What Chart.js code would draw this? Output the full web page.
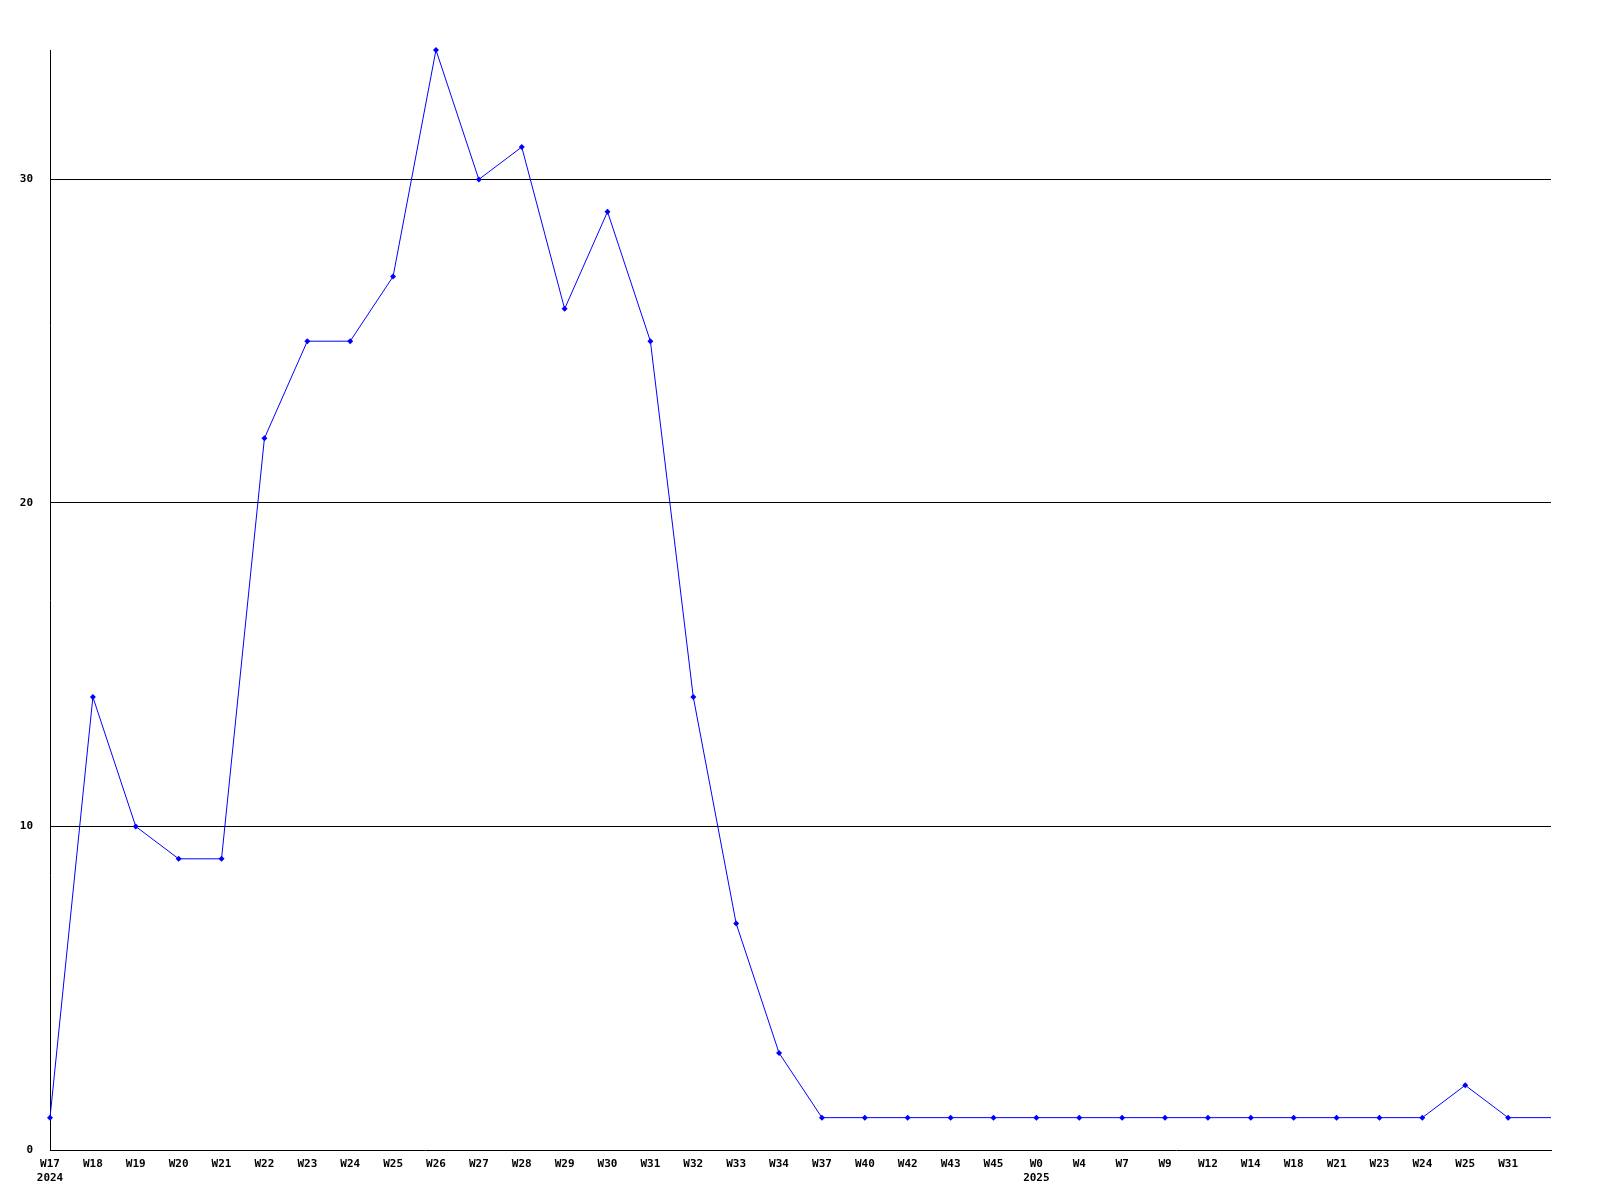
<!DOCTYPE html>
<html>
<head>
<meta charset="utf-8">
<script src="https://cdn.jsdelivr.net/npm/chart.js@4/dist/chart.umd.min.js"></script>
<style>
  html, body { margin: 0; padding: 0; background: #ffffff; }
  #wrap { width: 1600px; height: 1200px; position: relative; }
</style>
</head>
<body>
<div id="wrap"><canvas id="c" width="1600" height="1200"></canvas></div>
<script>
const weeks = ["W17","W18","W19","W20","W21","W22","W23","W24","W25","W26","W27","W28","W29","W30","W31","W32","W33","W34","W37","W40","W42","W43","W45","W0","W4","W7","W9","W12","W14","W18","W21","W23","W24","W25","W31",""];
const years = ["2024","","","","","","","","","","","","","","","","","","","","","","","2025","","","","","","","","","","","",""];
const counts = [1,14,10,9,9,22,25,25,27,34,30,31,26,29,25,14,7,3,1,1,1,1,1,1,1,1,1,1,1,1,1,1,1,2,1,1];
const yTicks = [0,10,20,30];
const yMax = 34;

const labels = weeks.map((w, i) => years[i] ? [w, years[i]] : w);
const radii = counts.map((v, i) => i === counts.length - 1 ? 0 : 3);

const font = { family: "'DejaVu Sans Mono', monospace", size: 11, weight: 'bold' };

new Chart(document.getElementById('c'), {
  type: 'line',
  data: {
    labels: labels,
    datasets: [{
      data: counts,
      borderColor: '#0000ff',
      backgroundColor: '#0000ff',
      borderWidth: 1,
      pointStyle: 'rectRot',
      pointRadius: radii,
      pointBorderWidth: 0,
      tension: 0,
      fill: false,
      clip: false
    }]
  },
  options: {
    responsive: false,
    animation: false,
    devicePixelRatio: 1,
    layout: { padding: { left: 0, right: 49, top: 50, bottom: 0 } },
    plugins: { legend: { display: false }, tooltip: { enabled: false } },
    scales: {
      x: {
        offset: false,
        grid: { display: false, drawTicks: false },
        border: { display: true, color: '#000000', width: 1 },
        ticks: {
          color: '#000000', font: font, autoSkip: false, maxRotation: 0, minRotation: 0,
          padding: 8
        },
        afterFit: (s) => { s.height = 50; }
      },
      y: {
        min: 0, max: yMax,
        grid: {
          drawTicks: false,
          color: (ctx) => (ctx.tick && ctx.tick.value > 0 && yTicks.includes(ctx.tick.value)) ? '#000000' : 'rgba(0,0,0,0)',
          lineWidth: 1
        },
        border: { display: true, color: '#000000', width: 1 },
        afterBuildTicks: (s) => { s.ticks = yTicks.map(v => ({ value: v })); },
        ticks: { color: '#000000', font: font, padding: 17 },
        afterFit: (s) => { s.width = 50; }
      }
    }
  }
});
</script>
</body>
</html>
